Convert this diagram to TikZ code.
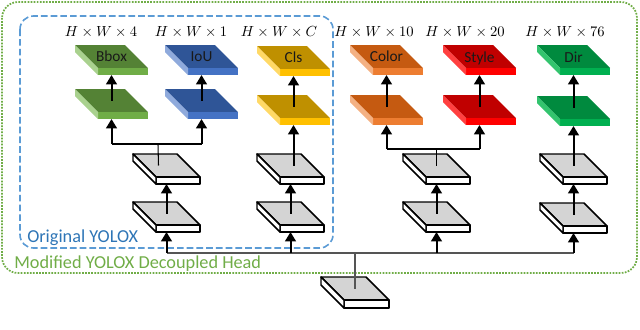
\documentclass[tikz,border=0pt]{standalone}
\usepackage{fontspec}
\setmainfont{Carlito}
\usetikzlibrary{arrows.meta,calc}
\definecolor{grnline}{HTML}{70AD47}
\definecolor{bluline}{HTML}{5B9BD5}
\definecolor{blutext}{HTML}{2E75B6}
\definecolor{slabgray}{HTML}{D4D4D4}
\definecolor{hlgray}{HTML}{555555}
\definecolor{bbT}{HTML}{548235}\definecolor{bbF}{HTML}{70AD47}\definecolor{bbS}{HTML}{A9D18E}
\definecolor{ioT}{HTML}{2F5597}\definecolor{ioF}{HTML}{4472C4}\definecolor{ioS}{HTML}{8FAADC}
\definecolor{csT}{HTML}{BF9000}\definecolor{csF}{HTML}{FFC000}\definecolor{csS}{HTML}{FFD966}
\definecolor{coT}{HTML}{C55A11}\definecolor{coF}{HTML}{ED7D31}\definecolor{coS}{HTML}{F4B183}
\definecolor{stT}{HTML}{C00000}\definecolor{stF}{HTML}{FF0000}\definecolor{stS}{HTML}{FF4040}
\definecolor{diT}{HTML}{008A3E}\definecolor{diF}{HTML}{00B050}\definecolor{diS}{HTML}{33C46E}
% name, x, y, width, thickness, top, front, side, style
\newcommand{\mkslab}[9]{%
  \coordinate (#1-tl) at (#2,#3);
  \coordinate (#1-tr) at ($(#1-tl)+(#4,0)$);
  \coordinate (#1-br) at ($(#1-tl)+(#4+23,23)$);
  \coordinate (#1-bl) at ($(#1-tl)+(23,23)$);
  \coordinate (#1-c) at ($(#1-tl)+(#4/2+11.5,11.5)$);
  \coordinate (#1-b) at ($(#1-c)+(0,11.5+#5)$);
  \filldraw[#9,fill=#6] (#1-tl) -- (#1-tr) -- (#1-br) -- (#1-bl) -- cycle;
  \filldraw[#9,fill=#7] (#1-bl) -- (#1-br) -- ++(0,#5) -- ++(-#4,0) -- cycle;
  \filldraw[#9,fill=#8] (#1-tl) -- (#1-bl) -- ++(0,#5) -- ++(-23,-23) -- cycle;
}
\begin{document}
\begin{tikzpicture}[x=0.75pt,y=-0.75pt,
  grayslab/.style={draw=black,line width=1.1pt,line join=round},
  colslab/.style={draw=none},
  arr/.style={line width=1.5pt,-{Triangle[width=8pt,length=7pt]}},
  thinln/.style={line width=0.8pt,draw=black},
  hline/.style={line width=0.9pt,draw=hlgray},
  dimlbl/.style={inner sep=0pt,font=\fontsize{10.5}{12}\selectfont},
  slabtxt/.style={inner sep=0pt,font=\fontsize{11.5}{13}\selectfont,text=black!90},
  boxlbl/.style={inner sep=0pt,anchor=west,font=\fontsize{13.7}{15}\selectfont}]
\useasboundingbox (0,0) rectangle (640,329);

% outer boxes
\draw[grnline,line width=1.3pt,dash pattern=on 1.3pt off 1pt,rounded corners=12pt]
  (2,2) rectangle (637,273);
\draw[bluline,line width=1.2pt,dash pattern=on 5pt off 2.3pt,rounded corners=10pt]
  (20,16) rectangle (333,248);
\node[boxlbl,text=blutext] (orig) at (27,238) {Original YOLOX};
\node[boxlbl,text=grnline] (mod) at (14,264) {Modified YOLOX Decoupled Head};

% bottom slab
\mkslab{bot}{321}{277}{45}{8}{slabgray}{white}{white}{grayslab}

% gray slabs
\mkslab{gal}{133}{202}{44}{7}{slabgray}{white}{white}{grayslab}
\mkslab{gau}{133}{154}{44}{7}{slabgray}{white}{white}{grayslab}
\mkslab{gbl}{257}{202}{44}{7}{slabgray}{white}{white}{grayslab}
\mkslab{gbu}{257}{154}{44}{7}{slabgray}{white}{white}{grayslab}
\mkslab{gcl}{403}{202}{44}{7}{slabgray}{white}{white}{grayslab}
\mkslab{gcu}{403}{154}{44}{7}{slabgray}{white}{white}{grayslab}
\mkslab{gdl}{540}{203}{44}{7}{slabgray}{white}{white}{grayslab}
\mkslab{gdu}{540}{154}{44}{7}{slabgray}{white}{white}{grayslab}

% coloured slabs
\mkslab{bbl}{75}{89}{50}{7}{bbT}{bbF}{bbS}{colslab}
\mkslab{bbu}{75}{45}{50}{7}{bbT}{bbF}{bbS}{colslab}
\mkslab{iol}{165}{89}{50}{7}{ioT}{ioF}{ioS}{colslab}
\mkslab{iou}{165}{45}{50}{7}{ioT}{ioF}{ioS}{colslab}
\mkslab{csl}{257}{95}{50}{7}{csT}{csF}{csS}{colslab}
\mkslab{csu}{257}{46}{50}{7}{csT}{csF}{csS}{colslab}
\mkslab{col}{350}{95}{50}{7}{coT}{coF}{coS}{colslab}
\mkslab{cou}{350}{45}{50}{7}{coT}{coF}{coS}{colslab}
\mkslab{stl}{443}{95}{50}{7}{stT}{stF}{stS}{colslab}
\mkslab{stu}{443}{45}{50}{7}{stT}{stF}{stS}{colslab}
\mkslab{dil}{537}{96}{50}{7}{diT}{diF}{diS}{colslab}
\mkslab{diu}{537}{45}{50}{7}{diT}{diF}{diS}{colslab}

% slab texts
\node[slabtxt] (tbb) at (bbu-c) {Bbox};
\node[slabtxt] (tio) at (iou-c) {IoU};
\node[slabtxt] (tcs) at (csu-c) {Cls};
\node[slabtxt] (tco) at (cou-c) {Color};
\node[slabtxt] (tst) at ($(stu-c)+(0,2)$) {Style};
\node[slabtxt] (tdi) at ($(diu-c)+(0,1)$) {Dir};

% dimension labels
\node[dimlbl] (d1) at (101,32) {$H\times W\times 4$};
\node[dimlbl] (d2) at (191,32) {$H\times W\times 1$};
\node[dimlbl] (d3) at (279,32) {$H\times W\times C$};
\node[dimlbl] (d4) at (374,32) {$H\times W\times 10$};
\node[dimlbl] (d5) at (465,32) {$H\times W\times 20$};
\node[dimlbl] (d6) at (565,32) {$H\times W\times 76$};

% bottom connectors
\coordinate (hl) at (354,253);
\draw[hline] (bot-c) -- (bot-c |- hl);
\draw[hline] (gal-b |- hl) -- (gdl-b |- hl);
\draw[arr] (gal-b |- hl) -- (gal-b);
\draw[arr] (gbl-b |- hl) -- (gbl-b);
\draw[arr] (gcl-b |- hl) -- (gcl-b);
\draw[arr] (gdl-b |- hl) -- (gdl-b);

% between gray slabs
\draw[arr] (gal-c) -- (gau-b);
\draw[arr] (gbl-c) -- (gbu-b);
\draw[arr] (gcl-c) -- (gcu-b);
\draw[arr] (gdl-c) -- (gdu-b);

% top connectors
\coordinate (ja) at (158,144);
\draw[thinln] ($(gau-c)+(-8,0)$) -- (ja);
\draw[thinln] (bbl-b |- ja) -- (iol-b |- ja);
\draw[arr] (bbl-b |- ja) -- (bbl-b);
\draw[arr] (iol-b |- ja) -- (iol-b);
\coordinate (jc) at (437,149);
\draw[thinln] (gcu-c) -- (gcu-c |- jc);
\draw[thinln] (col-b |- jc) -- (stl-b |- jc);
\draw[arr] (col-b |- jc) -- (col-b);
\draw[arr] (stl-b |- jc) -- (stl-b);
\draw[arr] (csl-b |- gbu-c) -- (csl-b);
\draw[arr] (dil-b |- gdu-c) -- (dil-b);

% between coloured slabs
\draw[arr] (bbl-c) -- (bbu-b);
\draw[arr] (iol-c) -- (iou-b);
\draw[arr] (csl-c) -- (csu-b);
\draw[arr] (col-c) -- (cou-b);
\draw[arr] (stl-c) -- (stu-b);
\draw[arr] (dil-c) -- (diu-b);
\end{tikzpicture}
\end{document}
